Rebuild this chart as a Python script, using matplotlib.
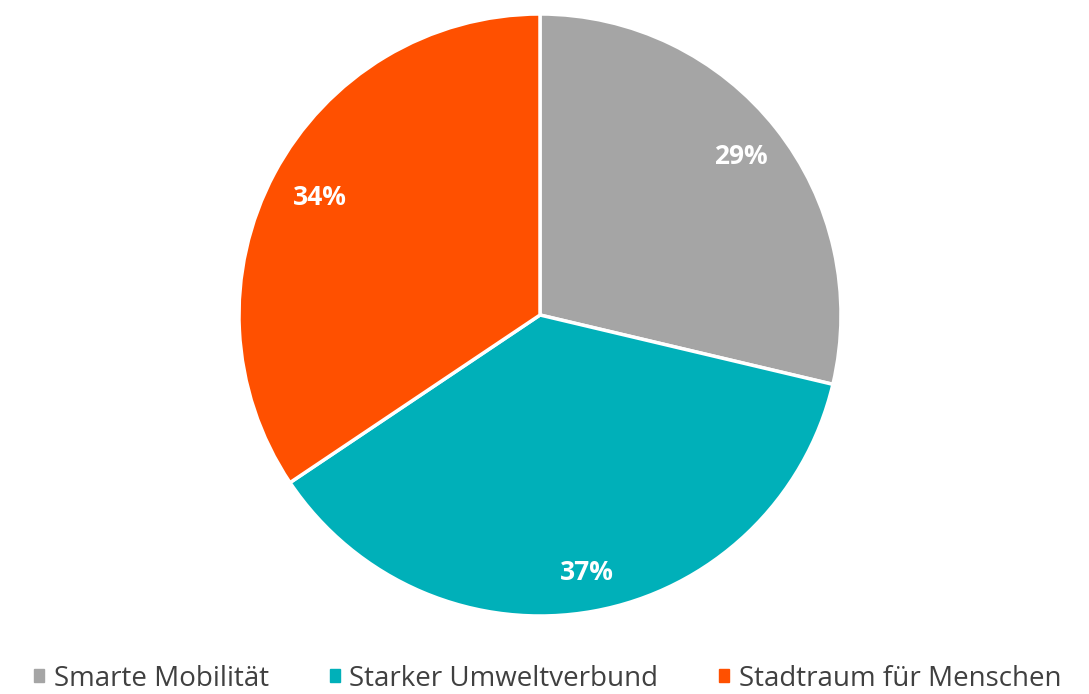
import matplotlib
matplotlib.use("Agg")
import matplotlib.pyplot as plt
from matplotlib.patches import Rectangle
import numpy as np

categories = ["Smarte Mobilität", "Starker Umweltverbund", "Stadtraum für Menschen"]
values = [28.7, 36.9, 34.4]
labels_pct = ["29%", "37%", "34%"]
colors = ["#A5A5A5", "#00B0B9", "#FF5000"]

plt.rcParams['font.family'] = ['Open Sans', 'DejaVu Sans']

fig = plt.figure(figsize=(10.89, 6.94), dpi=100)
ax = fig.add_axes([239/1089, 78/694, 602/1089, 602/694])
wedges, texts = ax.pie(
    values, colors=colors, startangle=90, counterclock=False,
    wedgeprops=dict(edgecolor="white", linewidth=2.5))
cum = 0
for v, lab, d in zip(values, labels_pct, [0.85, 0.87, 0.83]):
    mid = np.deg2rad(90 - (cum + v / 2) / 100 * 360)
    cum += v
    ax.text(d * np.cos(mid), d * np.sin(mid), lab, ha="center", va="center",
            color="white", fontsize=19, fontweight="bold")
ax.set_xlim(-1, 1)
ax.set_ylim(-1, 1)
ax.set_aspect("equal")

# legend
handles = [Rectangle((0, 0), 1, 1, color=c) for c in colors]
leg = fig.legend(handles, categories, loc="lower center", bbox_to_anchor=(0.503, -0.034),
                 ncol=3, frameon=False, fontsize=20, handlelength=0.35, handleheight=0.35,
                 handletextpad=0.35, columnspacing=2.2, labelcolor="#404040")

fig.savefig("out.png", dpi=100, facecolor="white")
